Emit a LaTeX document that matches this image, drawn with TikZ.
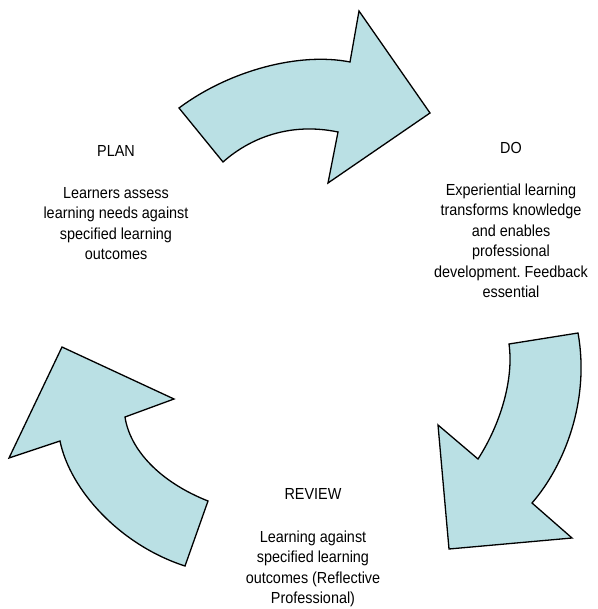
\documentclass[tikz,border=0pt]{standalone}
\usepackage{fontspec}
\setmainfont{Liberation Sans}[FakeStretch=0.9]
\definecolor{arrowfill}{RGB}{186,224,228}
\frenchspacing
\begin{document}
\begin{tikzpicture}[x=1pt,y=-1pt,
  bigarrow/.style={draw=black,line width=1.3pt,fill=arrowfill,line join=miter},
  label/.style={align=center,inner sep=0pt,font=\fontsize{16}{20.5}\selectfont}]
\useasboundingbox (0,0) rectangle (597,609);
% top arrow (PLAN -> DO)
\draw[bigarrow] (179,108) .. controls (230,70) and (300,52) .. (350,62)
  -- (359,11) -- (430,113) -- (328,183) -- (338,132)
  .. controls (290,122) and (250,138) .. (223,162) -- cycle;
% right arrow (DO -> REVIEW)
\draw[bigarrow] (578,333) -- (509,344)
  .. controls (514,380) and (500,425) .. (478,459)
  -- (438,425) -- (449,549) -- (572,538) -- (532,503)
  .. controls (565,465) and (590,400) .. (578,333) -- cycle;
% left arrow (REVIEW -> PLAN)
\draw[bigarrow] (185,566) -- (208,501)
  .. controls (160,482) and (130,450) .. (125,417)
  -- (174,399) -- (62,347) -- (9,458) -- (60,441)
  .. controls (70,490) and (120,545) .. (185,566) -- cycle;
\node[label] (plan) at (116,203) {PLAN\\[21pt]Learners assess\\learning needs against\\specified learning\\outcomes};
\node[label] (do) at (511,220) {DO\\[21pt]Experiential learning\\transforms knowledge\\and enables\\professional\\development. Feedback\\essential};
\node[label] (review) at (313,548) {REVIEW\\[22pt]Learning against\\specified learning\\outcomes (Reflective\\Professional)};
\end{tikzpicture}
\end{document}
